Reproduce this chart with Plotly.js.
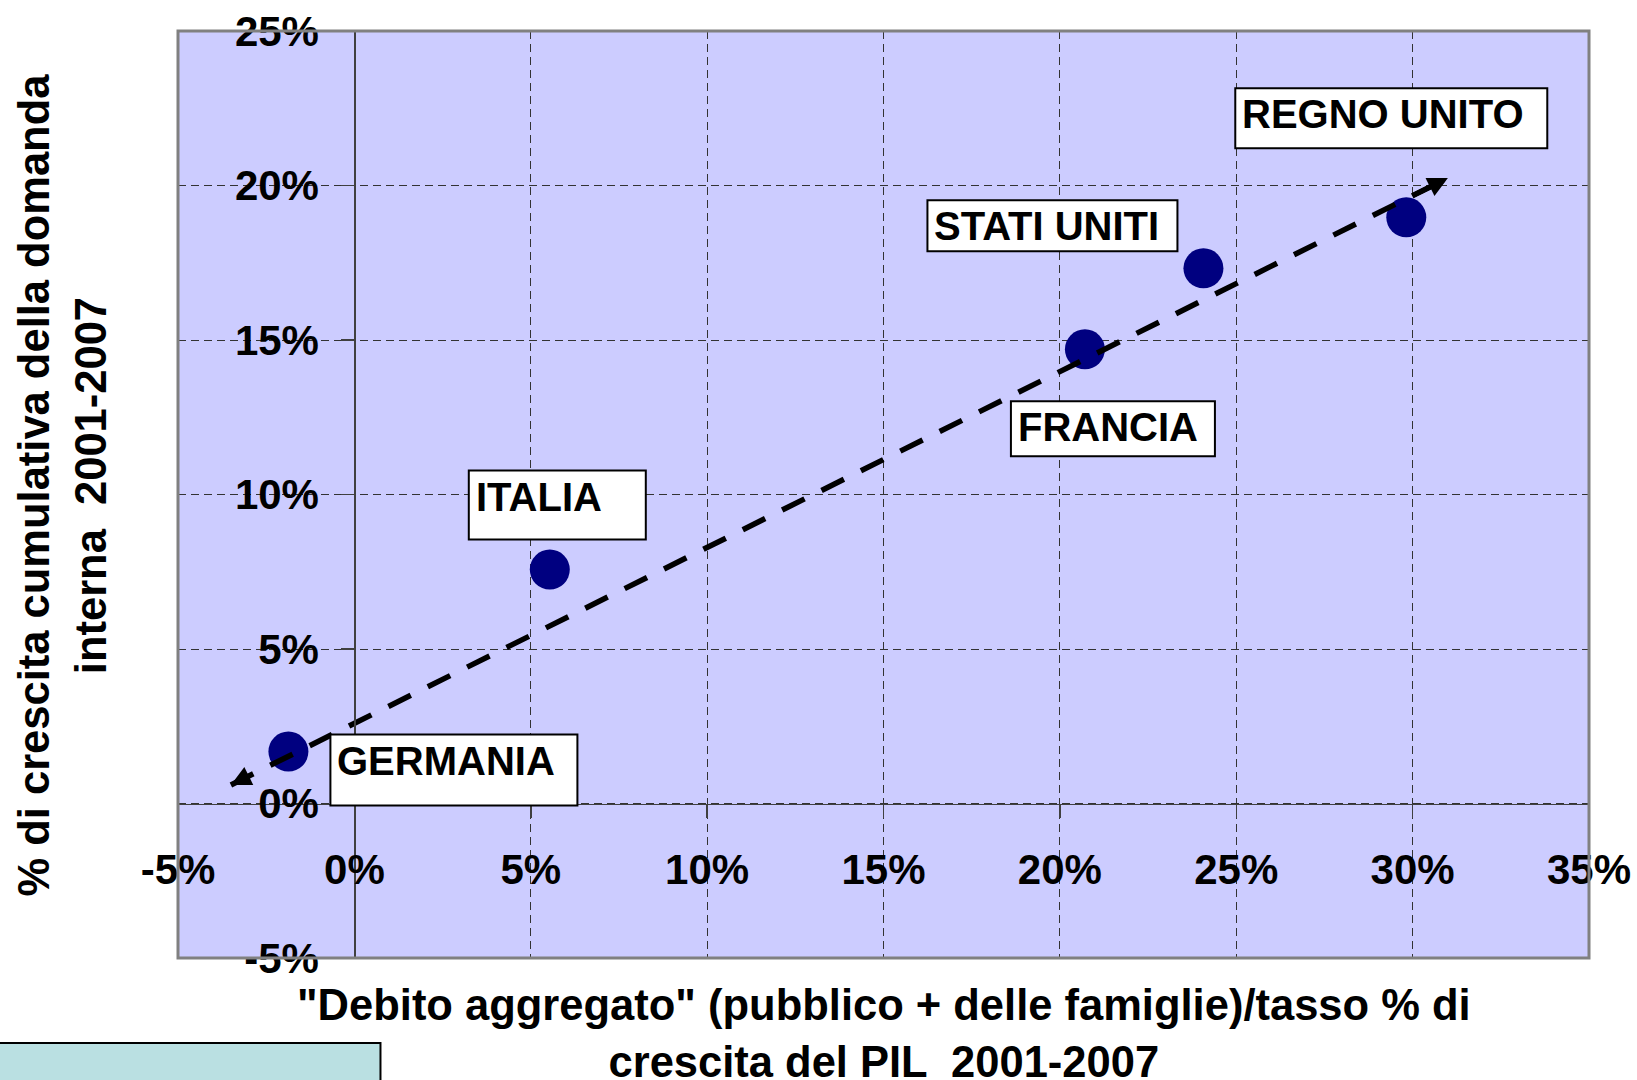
<!DOCTYPE html>
<html>
<head>
<meta charset="utf-8">
<script src="https://cdn.plot.ly/plotly-3.0.1.min.js"></script>
<style>
  html, body { margin: 0; padding: 0; background: #ffffff; }
  #chart { width: 1637px; height: 1080px; }
</style>
</head>
<body>
<div id="chart"></div>
<script>
// ---- data ----
const countries = ['GERMANIA', 'ITALIA', 'FRANCIA', 'STATI UNITI', 'REGNO UNITO'];
const debtGrowth = [-1.87, 5.54, 20.71, 24.07, 29.82];     // x, %
const demandGrowth = [1.68, 7.57, 14.70, 17.32, 18.97];    // y, %
const trendX = [-3.5, 31.0];
const trendY = [0.6, 20.24];
const xTickVals = [-5, 0, 5, 10, 15, 20, 25, 30, 35];
const xTickText = ['-5%', '0%', '5%', '10%', '15%', '20%', '25%', '30%', '35%'];
const yTickVals = [-5, 0, 5, 10, 15, 20, 25];
const yTickText = ['-5%', '0%', '5%', '10%', '15%', '20%', '25%'];
const xTitle = '"Debito aggregato" (pubblico + delle famiglie)/tasso % di<br>crescita del PIL \u00a02001-2007';
const yTitle = '% di crescita cumulativa della domanda<br>interna \u00a02001-2007';

// ---- label box placement (pixel offsets from each point; dy positive = up) ----
const labelBox = [
  { dx: 42,   dy: 17,   w: 247, h: 71 },  // GERMANIA
  { dx: -81,  dy: 99,   w: 177, h: 69 },  // ITALIA
  { dx: -74,  dy: -52,  w: 204, h: 55 },  // FRANCIA
  { dx: -276, dy: 68,   w: 250, h: 51 },  // STATI UNITI
  { dx: -171, dy: 129,  w: 312, h: 60 }   // REGNO UNITO
];
const textPadLeft = 6;
const textCenterBelowTop = 26;

const FONT = 'Liberation Sans, Arial, Helvetica, sans-serif';

const traces = [
  {
    x: debtGrowth, y: demandGrowth, text: countries,
    type: 'scatter', mode: 'markers',
    marker: { size: 40, color: '#000080' },
    hoverinfo: 'text', showlegend: false
  },
  {
    x: trendX, y: trendY,
    type: 'scatter', mode: 'lines',
    line: { color: '#000000', width: 5.5, dash: '25px,19px' },
    hoverinfo: 'skip', showlegend: false
  }
];

const shapes = [
  { type: 'rect', xref: 'paper', yref: 'paper', x0: 0, x1: 1, y0: 0, y1: 1,
    line: { color: '#808080', width: 3 }, fillcolor: 'rgba(0,0,0,0)', layer: 'above' },
  { type: 'rect', xref: 'paper', yref: 'paper', x0: -0.14, x1: 0.1435, y0: -0.0917, y1: -0.15,
    line: { color: '#000000', width: 2 }, fillcolor: '#BAE0E2', layer: 'above' }
];

const annotations = [];
countries.forEach((c, i) => {
  const b = labelBox[i];
  shapes.push({
    type: 'rect', xref: 'x', yref: 'y',
    xsizemode: 'pixel', ysizemode: 'pixel',
    xanchor: debtGrowth[i], yanchor: demandGrowth[i],
    x0: b.dx, x1: b.dx + b.w, y0: b.dy, y1: b.dy - b.h,
    fillcolor: '#ffffff', line: { color: '#000000', width: 2 }, layer: 'above'
  });
  annotations.push({
    x: debtGrowth[i], y: demandGrowth[i], xref: 'x', yref: 'y',
    text: c, showarrow: false,
    xanchor: 'left', yanchor: 'middle',
    xshift: b.dx + textPadLeft, yshift: b.dy - textCenterBelowTop,
    borderpad: 0,
    font: { family: FONT, size: 40, color: '#000000', weight: 'bold' }
  });
});

// arrowheads at both ends of the trend line
const dxT = trendX[1] - trendX[0], dyT = trendY[1] - trendY[0];
annotations.push({
  x: trendX[1], y: trendY[1], ax: trendX[1] - 0.03 * dxT, ay: trendY[1] - 0.03 * dyT,
  xref: 'x', yref: 'y', axref: 'x', ayref: 'y', text: '',
  showarrow: true, arrowhead: 2, arrowsize: 0.8, arrowwidth: 5, arrowcolor: '#000000', standoff: 0
});
annotations.push({
  x: trendX[0], y: trendY[0], ax: trendX[0] + 0.016 * dxT, ay: trendY[0] + 0.016 * dyT,
  xref: 'x', yref: 'y', axref: 'x', ayref: 'y', text: '',
  showarrow: true, arrowhead: 2, arrowsize: 0.8, arrowwidth: 5, arrowcolor: '#000000', standoff: 0
});

// axis titles
annotations.push({
  xref: 'paper', yref: 'paper', x: 0.5, y: -0.0815, xanchor: 'center', yanchor: 'middle',
  text: xTitle, showarrow: false, align: 'center',
  font: { family: FONT, size: 43.5, color: '#000000', weight: 'bold' }
});
annotations.push({
  xref: 'paper', yref: 'paper', x: -0.082, y: 0.51, xanchor: 'center', yanchor: 'middle',
  text: yTitle, showarrow: false, align: 'center', textangle: -90,
  font: { family: FONT, size: 43.5, color: '#000000', weight: 'bold' }
});

const layout = {
  width: 1637, height: 1080,
  margin: { l: 177.5, r: 48, t: 31, b: 122, pad: 0 },
  paper_bgcolor: '#ffffff', plot_bgcolor: '#CCCCFF',
  showlegend: false,
  xaxis: {
    range: [-5, 35], tickvals: xTickVals, ticktext: xTickText,
    anchor: 'free', position: 1 / 6,
    showline: true, linecolor: '#404040', linewidth: 1.5,
    ticks: 'outside', ticklen: 13, tickcolor: '#404040', tickwidth: 1.5,
    ticklabelstandoff: 16,
    showgrid: true, gridcolor: '#333333', gridwidth: 1, griddash: '8px,5px',
    zeroline: false, fixedrange: true,
    tickfont: { family: FONT, size: 42, color: '#000000', weight: 'bold' }
  },
  yaxis: {
    range: [-5, 25], tickvals: yTickVals, ticktext: yTickText,
    anchor: 'free', position: 0.125,
    showline: true, linecolor: '#404040', linewidth: 1.5,
    ticks: 'outside', ticklen: 13, tickcolor: '#404040', tickwidth: 1.5,
    ticklabelstandoff: 14,
    showgrid: true, gridcolor: '#333333', gridwidth: 1, griddash: '8px,5px',
    zeroline: false, fixedrange: true,
    tickfont: { family: FONT, size: 42, color: '#000000', weight: 'bold' }
  },
  shapes: shapes,
  annotations: annotations
};

Plotly.newPlot('chart', traces, layout, { displayModeBar: false, staticPlot: true });
</script>
</body>
</html>
